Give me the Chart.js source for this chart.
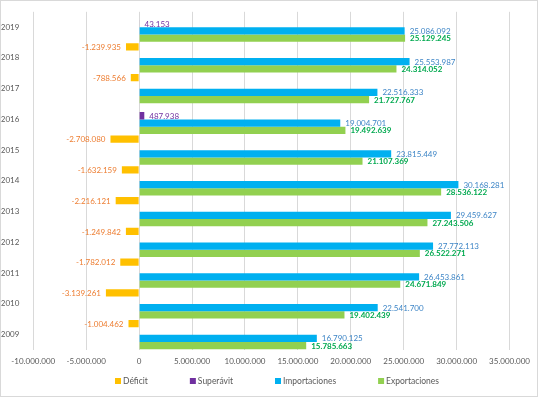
<!DOCTYPE html>
<html><head><meta charset="utf-8">
<script src="https://cdn.jsdelivr.net/npm/chart.js@4/dist/chart.umd.min.js"></script>
<style>
html,body{margin:0;padding:0;background:#fff;}
#wrap{position:relative;width:538px;height:397px;box-sizing:border-box;border:1px solid #D9D9D9;background:#fff;}
</style></head><body>
<div id="wrap"><canvas id="c"></canvas></div>
<script>
// ---- data ----
const years = ['2019','2018','2017','2016','2015','2014','2013','2012','2011','2010','2009'];
const deficit = [null, -1239935, -788566, null, -2708080, -1632159, -2216121, -1249842, -1782012, -3139261, -1004462];
const superavit = [43153, null, null, 487938, null, null, null, null, null, null, null];
const importaciones = [25086092, 25553987, 22516333, 19004701, 23815449, 30168281, 29459627, 27772113, 26453861, 22541700, 16790125];
const exportaciones = [25129245, 24314052, 21727767, 19492639, 21107369, 28536122, 27243506, 26522271, 24671849, 19402439, 15785663];
const seriesNames = ['Déficit', 'Superávit', 'Importaciones', 'Exportaciones'];
const xTicks = [-10000000, -5000000, 0, 5000000, 10000000, 15000000, 20000000, 25000000, 30000000, 35000000];

// ---- styles ----
const FONT = 'Lato, "Liberation Sans", sans-serif';
const barColors = ['#FFC000', '#7030A0', '#00B0F0', '#92D050'];
const labelColors = ['#ED7D31', '#7030A0', '#3D85C6', '#00A94F'];
const labelWeights = ['normal', 'normal', 'normal', 'bold'];

function fmt(v) {
  const s = Math.abs(Math.round(v)).toString().replace(/\B(?=(\d{3})+(?!\d))/g, '.');
  return (v < 0 ? '-' : '') + s;
}

const valueLabels = {
  id: 'valueLabels',
  afterDatasetsDraw(chart) {
    const ctx = chart.ctx;
    ctx.save();
    ctx.textBaseline = 'middle';
    chart.data.datasets.forEach((ds, di) => {
      const meta = chart.getDatasetMeta(di);
      meta.data.forEach((bar, i) => {
        const v = ds.data[i];
        if (v === null || v === undefined) return;
        ctx.font = labelWeights[di] + ' 8px ' + FONT;
        ctx.fillStyle = labelColors[di];
        if (v < 0) { ctx.textAlign = 'right'; ctx.fillText(fmt(v), bar.x - 5, bar.y + 0.5); }
        else { ctx.textAlign = 'left'; ctx.fillText(fmt(v), bar.x + 5, bar.y + 0.5); }
      });
    });
    ctx.restore();
  }
};

const customLegend = {
  id: 'customLegend',
  afterDraw(chart) {
    const ctx = chart.ctx;
    ctx.save();
    ctx.font = '8.5px ' + FONT;
    ctx.textBaseline = 'middle';
    const box = 6, gapText = 2, gap = 42;
    const widths = chart.data.datasets.map(d => box + gapText + ctx.measureText(d.label).width);
    const total = widths.reduce((a, b) => a + b, 0) + gap * (widths.length - 1);
    let x = 276 - total / 2;
    const y = 380;
    chart.data.datasets.forEach((d, i) => {
      ctx.fillStyle = d.backgroundColor;
      ctx.fillRect(x, y - box / 2, box, box);
      ctx.fillStyle = '#595959';
      ctx.textAlign = 'left';
      ctx.fillText(d.label, x + box + gapText, y + 0.5);
      x += widths[i] + gap;
    });
    ctx.restore();
  }
};

const seriesData = [deficit, superavit, importaciones, exportaciones];
const chart = new Chart(document.getElementById('c'), {
  type: 'bar',
  data: {
    labels: years,
    datasets: seriesNames.map((n, i) => ({
      label: n,
      data: seriesData[i],
      backgroundColor: barColors[i],
      categoryPercentage: 0.95,
      barPercentage: 1.0
    }))
  },
  options: {
    indexAxis: 'y',
    responsive: true,
    maintainAspectRatio: false,
    animation: false,
    layout: { padding: { left: 0, right: 10, top: 10, bottom: 26 } },
    scales: {
      x: {
        min: -10000000, max: 35000000,
        afterBuildTicks: s => { s.ticks = xTicks.map(v => ({ value: v })); },
        afterFit: s => { s.height = 20; },
        grid: { color: '#D9D9D9', drawTicks: false, lineWidth: 1 },
        border: { display: false },
        ticks: { callback: v => fmt(v), color: '#595959', font: { family: FONT, size: 8 }, padding: 7, maxRotation: 0, autoSkip: false }
      },
      y: {
        grid: { display: false },
        border: { display: false },
        afterFit: s => { s.width = 32; },
        ticks: { color: '#595959', font: { family: FONT, size: 8 }, padding: 6 }
      }
    },
    plugins: { legend: { display: false }, tooltip: { enabled: false } }
  },
  plugins: [valueLabels, customLegend]
});

// align plot area to target
(function () {
  const target = { left: 32.3, right: 505, top: 10, bottom: 349 };
  const ca = chart.chartArea;
  const p = chart.options.layout.padding;
  p.left += target.left - ca.left;
  p.right += ca.right - target.right;
  p.top += target.top - ca.top;
  p.bottom += ca.bottom - target.bottom;
  chart.update();
})();
</script>
</body></html>
